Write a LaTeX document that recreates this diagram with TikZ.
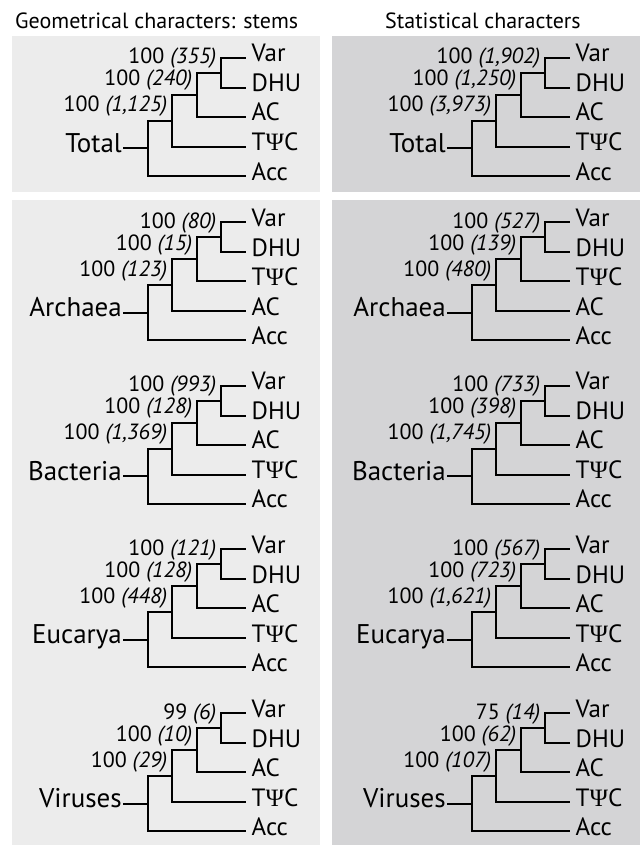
\documentclass[tikz,border=0pt]{standalone}
\usepackage{fontspec}
\setmainfont{PT Sans}
\newfontfamily\psifont{Liberation Serif}
\newcommand{\TPC}{T{\psifont Ψ}C}
\definecolor{panelL}{RGB}{236,236,236}
\definecolor{panelR}{RGB}{212,212,214}
\tikzset{
  leaf/.style={anchor=west, inner xsep=6.5pt, inner ysep=0pt, text height=8pt, text depth=0pt, font=\fontsize{25}{25}\selectfont},
  taxon/.style={anchor=east, inner xsep=2pt, inner ysep=0pt, text height=8pt, text depth=0pt, font=\fontsize{27}{27}\selectfont},
  supp/.style={anchor=base east, inner sep=0pt, font=\fontsize{22}{22}\selectfont},
  ttl/.style={anchor=base west, inner sep=0pt, font=\fontsize{22}{22}\selectfont},
  branch/.style={line width=2pt, line cap=rect},
}
% #1 prefix, #2 dx, #3 y of Var, #4 taxon, #5 #6 #7 support labels, #8 third leaf, #9 fourth leaf
\newcommand{\mytree}[9]{%
\begin{scope}[shift={(#2,#3)}]
  \node[leaf] (#1v) at (245,0) {Var};
  \node[leaf] (#1d) at (245,30) {DHU};
  \node[leaf] (#1c) at (245,59) {#8};
  \node[leaf] (#1t) at (245,89) {#9};
  \node[leaf] (#1a) at (245,118) {Acc};
  \coordinate (#1n1) at (221,15);
  \coordinate (#1n2) at (197,37);
  \coordinate (#1n3) at (172,63);
  \coordinate (#1r) at (148,90.5);
  \node[taxon] (#1name) at (124,90.5) {#4};
  \node[supp] (#1s1) at (216.5,6) {#5};
  \node[supp] (#1s2) at (192.5,28) {#6};
  \node[supp] (#1s3) at (167.5,54) {#7};
  \draw[branch] (#1v.west) -| (#1n1) |- (#1d.west);
  \draw[branch] (#1n1) -| (#1n2) |- (#1c.west);
  \draw[branch] (#1n2) -| (#1n3) |- (#1t.west);
  \draw[branch] (#1n3) -| (#1r) |- (#1a.west);
  \draw[branch] (#1name.east) -- (#1r);
\end{scope}}
\newcommand{\sv}[2]{#1 \textit{(#2)}}
\begin{document}
\begin{tikzpicture}[x=1pt,y=-1pt]
\useasboundingbox (0,0) rectangle (640,845);
\fill[white] (0,0) rectangle (640,845);
\fill[panelL] (12,36.5) rectangle (320,192);
\fill[panelR] (332,36.5) rectangle (640,192);
\fill[panelL] (12,200) rectangle (320,845);
\fill[panelR] (332,200) rectangle (640,845);
\node[ttl] (t1) at (15,29) {Geometrical characters: stems};
\node[ttl] (t2) at (385,29) {Statistical characters};
\mytree{A}{0}{58}{Total}{\sv{100}{355}}{\sv{100}{240}}{\sv{100}{1,125}}{AC}{\TPC}
\mytree{B}{324}{58}{Total}{\sv{100}{1,902}}{\sv{100}{1,250}}{\sv{100}{3,973}}{AC}{\TPC}
\mytree{C}{0}{222}{Archaea}{\sv{100}{80}}{\sv{100}{15}}{\sv{100}{123}}{\TPC}{AC}
\mytree{D}{324}{222}{Archaea}{\sv{100}{527}}{\sv{100}{139}}{\sv{100}{480}}{\TPC}{AC}
\mytree{E}{0}{385.5}{Bacteria}{\sv{100}{993}}{\sv{100}{128}}{\sv{100}{1,369}}{AC}{\TPC}
\mytree{F}{324}{385.5}{Bacteria}{\sv{100}{733}}{\sv{100}{398}}{\sv{100}{1,745}}{AC}{\TPC}
\mytree{G}{0}{549}{Eucarya}{\sv{100}{121}}{\sv{100}{128}}{\sv{100}{448}}{AC}{\TPC}
\mytree{H}{324}{549}{Eucarya}{\sv{100}{567}}{\sv{100}{723}}{\sv{100}{1,621}}{AC}{\TPC}
\mytree{I}{0}{713}{Viruses}{\sv{99}{6}}{\sv{100}{10}}{\sv{100}{29}}{AC}{\TPC}
\mytree{J}{324}{713}{Viruses}{\sv{75}{14}}{\sv{100}{62}}{\sv{100}{107}}{AC}{\TPC}
\end{tikzpicture}
\end{document}
